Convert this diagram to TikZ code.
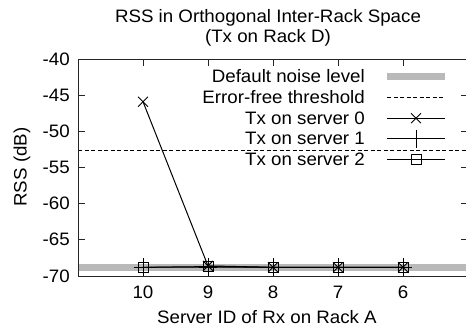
\documentclass[tikz,border=0pt]{standalone}
\usepackage{fontspec}
\setmainfont{Liberation Sans}
\usetikzlibrary{shapes.misc}
\definecolor{noisegray}{RGB}{185,185,185}
\begin{document}
\begin{tikzpicture}[x=1pt,y=1pt,
  font=\fontsize{18}{20}\selectfont,
  frameline/.style={line width=0.9pt, black!85},
  tickline/.style={line width=0.8pt, black!85},
  noise/.style={line width=7pt, noisegray},
  thresh/.style={line width=0.8pt, dash pattern=on 4pt off 2.5pt},
  series/.style={line width=1pt, black},
  xmk/.style={draw, cross out, minimum size=9pt, inner sep=0pt, line width=0.9pt},
  pmk/.style={draw, cross out, rotate=45, minimum size=12pt, inner sep=0pt, line width=0.9pt},
  smk/.style={draw, rectangle, minimum size=10pt, inner sep=0pt, line width=0.9pt},
  lbl/.style={inner sep=0pt, transform shape, xscale=1.04}]
\useasboundingbox (0,0) rectangle (466,331);
\clip (0,0) rectangle (466,331);
% titles
\node[lbl, anchor=base] (t1) at (268,308) {RSS in Orthogonal Inter-Rack Space};
\node[lbl, anchor=base] (t2) at (268,288) {(Tx on Rack D)};
\node[lbl, anchor=base] (xl) at (267,7) {Server ID of Rx on Rack A};
\node[inner sep=0pt, transform shape, yscale=1.04, rotate=90] (yl) at (22,164) {RSS (dB)};
\begin{scope}[shift={(793pt,561.3pt)}, x=-65pt, y=7.233pt]
  % noise band and threshold
  \coordinate (nb0) at (11,-68.8);
  \coordinate (nb1) at (5,-68.8);
  \draw[noise] (nb0) -- (nb1);
  \coordinate (th0) at (11,-52.7);
  \coordinate (th1) at (5,-52.7);
  \draw[thresh] (th0) -- (th1);
  % frame
  \coordinate (fbl) at (11,-70);
  \coordinate (ftr) at (5,-40);
  \draw[frameline] (fbl) rectangle (ftr);
  % y ticks
  \foreach \d in {-40,-45,...,-70}{
    \draw[tickline] (11,\d) -- ++(7pt,0);
    \draw[tickline] (5,\d) -- ++(-7pt,0);
    \node[lbl, anchor=base east] (yt\d) at ([xshift=-8pt,yshift=-6pt]11,\d) {\d};
  }
  % x ticks
  \foreach \v in {10,9,8,7,6}{
    \draw[tickline] (\v,-70) -- ++(0,7pt);
    \draw[tickline] (\v,-40) -- ++(0,-7pt);
    \node[lbl, anchor=base] (xt\v) at ([yshift=-22pt]\v,-70) {\v};
  }
  % data coordinates
  \coordinate (a10) at (10,-45.9);
  \coordinate (a9) at (9,-68.6);
  \coordinate (a8) at (8,-68.8);
  \coordinate (a7) at (7,-68.8);
  \coordinate (a6) at (6,-68.8);
  \coordinate (b10) at (10,-68.8);
  \coordinate (b9) at (9,-68.75);
  \coordinate (b8) at (8,-68.8);
  \coordinate (b7) at (7,-68.8);
  \coordinate (b6) at (6,-68.8);
  \coordinate (c10) at (10,-68.8);
  \coordinate (c9) at (9,-68.7);
  \coordinate (c8) at (8,-68.8);
  \coordinate (c7) at (7,-68.8);
  \coordinate (c6) at (6,-68.8);
  \draw[series] (a10) -- (a9) -- (a8) -- (a7) -- (a6);
  \draw[series] (b10) -- (b9) -- (b8) -- (b7) -- (b6);
  \draw[series] (c10) -- (c9) -- (c8) -- (c7) -- (c6);
  \foreach \p in {10,9,8,7,6}{
    \node[xmk] (ma\p) at (a\p) {};
    \node[pmk] (mb\p) at (b\p) {};
    \node[smk] (mc\p) at (c\p) {};
  }
\end{scope}
% legend
\node[lbl, anchor=base east] (l1) at (365,248) {Default noise level};
\node[lbl, anchor=base east] (l2) at (365,227.4) {Error-free threshold};
\node[lbl, anchor=base east] (l3) at (365,206.8) {Tx on server 0};
\node[lbl, anchor=base east] (l4) at (365,186.2) {Tx on server 1};
\node[lbl, anchor=base east] (l5) at (365,165.6) {Tx on server 2};
\coordinate (s1a) at (387,254); \coordinate (s1b) at (445,254);
\coordinate (s2a) at (387,233.4); \coordinate (s2b) at (445,233.4);
\coordinate (s3a) at (387,212.8); \coordinate (s3b) at (445,212.8);
\coordinate (s4a) at (387,192.2); \coordinate (s4b) at (445,192.2);
\coordinate (s5a) at (387,171.6); \coordinate (s5b) at (445,171.6);
\draw[noise] (s1a) -- (s1b);
\draw[thresh] (s2a) -- (s2b);
\draw[series] (s3a) -- (s3b);
\draw[series] (s4a) -- (s4b);
\draw[series] (s5a) -- (s5b);
\node[xmk] (lm3) at (416,212.8) {};
\node[pmk] (lm4) at (416,192.2) {};
\node[smk] (lm5) at (416,171.6) {};
\end{tikzpicture}
\end{document}
